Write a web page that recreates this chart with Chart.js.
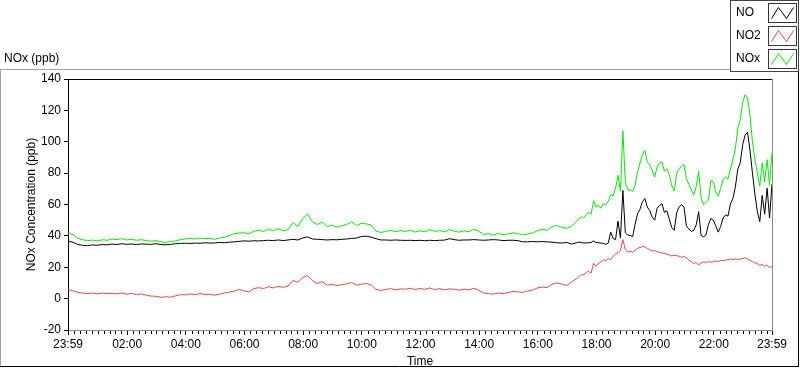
<!DOCTYPE html>
<html>
<head>
<meta charset="utf-8">
<script src="https://cdn.jsdelivr.net/npm/chart.js@4.4.0/dist/chart.umd.min.js"></script>
<style>
html,body{margin:0;padding:0;background:#fff;overflow:hidden}
canvas{display:block}
</style>
</head>
<body>
<canvas id="c" width="800" height="369"></canvas>
<script>
// minutes after 23:59 of the previous day
const minutes = [0,10,20,30,40,50,60,70,80,90,100,110,120,130,140,150,160,170,180,190,200,210,220,230,240,250,260,270,280,290,300,310,320,330,340,350,
  360,370,380,390,400,410,420,430,440,450,460,470,480,490,500,510,520,530,540,550,560,570,580,590,600,610,620,630,640,650,660,670,680,690,700,
  710,720,730,740,750,760,770,780,790,800,810,820,830,840,850,860,870,880,890,900,910,920,930,940,950,960,970,980,990,1000,1010,1020,1030,1040,
  1045,1050,1055,1060,1065,1070,1075,1080,1085,1090,1095,1100,1105,1110,1115,1120,1125,1130,1135,1140,1145,1150,1155,1160,1165,1170,1175,1180,1185,1190,1195,1200,
  1205,1210,1215,1220,1225,1230,1235,1240,1245,1250,1255,1260,1265,1270,1275,1280,1285,1290,1295,1300,1305,1310,1315,1320,1325,1330,1335,1340,1345,1350,1355,1360,
  1365,1370,1375,1380,1385,1390,1395,1400,1405,1410,1415,1420,1425,1430,1435,1440];

const no = [36.6,36,34.5,34,33.8,34.2,34,34.5,34.3,34.8,34.5,35,34.6,34.8,34.4,34.9,34.7,34.6,35,34.5,34.3,34.6,35,35.2,35.3,35.2,35.4,35.3,35.6,35.4,35.5,35.8,35.6,36,36.2,36.5,
  36.8,36.6,36.9,36.8,37,37.2,37,37.4,37,37.4,37.8,37.4,38.6,39.4,38,37.8,37.6,37.4,37.6,37.5,37.8,38,38.4,38.6,39.6,39.8,39.2,38.2,37.4,37.4,37.2,37.4,37.2,37.1,37.2,
  37,37.2,36.9,37.2,37,37.2,37.3,38.2,37.6,37.2,37.4,37.4,37.6,37.4,37.2,37.4,37.6,37.4,37,37.2,37.2,37,36.2,36.2,36.4,36.2,36.4,36.2,36,35.6,35.4,35.8,34.8,35.6,
  36,35.8,35.4,35.6,35.6,35.8,36.8,35.8,35.6,35.4,35.2,34.6,35.4,42.4,38.4,37.6,49.4,38.6,69,42,40.6,40.2,39.6,47.4,54.2,57,61.8,63.8,58.4,56,52,50,
  57.6,59.4,60.4,55,56,50.6,45.2,43.6,54.6,58.6,59.8,58.4,46.2,44.4,42.8,43.6,47,55.4,40.2,39.4,40.6,47.2,51.2,50,46.4,42.4,46,51.4,53.4,52.6,60.4,63.8,
  71,82.4,86.6,98,104.4,106,94.6,80,66.8,55.4,49,65.8,53.8,70.4,51.4,73];

const no2 = [5.8,5,4,3.5,3.2,3.6,3,3.5,3.2,3.4,3,3.6,2.8,3.3,2.6,3,2.2,1.6,1.5,0.8,1.2,0.9,1.8,2.5,2.4,3,2.6,3.2,2.6,2.8,2.2,2.8,3.6,4.2,4.8,5.8,
  5,4.2,6.4,7,6.4,7.6,6.8,7.8,7.2,8,11.6,10.4,13.4,14.8,11.4,9.6,10.8,8.6,9,8.4,8.8,9.4,10.2,8.6,9.2,9.6,8.8,5.8,5.2,5.8,6.4,5.6,6.2,6,6.6,
  5.8,6.4,6,6.8,5.8,6.4,5.6,6.2,6,5.4,6,5.6,6.6,5.4,3.6,3.2,2.8,3.6,3.2,3.8,4.6,4.4,4,4.8,5.4,6.8,7.4,7,9.2,10,9.2,8.4,10.6,12.6,
  14,15.4,15,16.8,17.4,16.2,22.4,20.8,22.4,23.4,24.8,24.2,25.6,24.8,27,28.6,29.2,30.8,37.6,31.4,29.8,30.2,29.6,30.8,32,32.6,33.2,33,32,31.2,30.4,30.6,
  29.8,29.6,29.2,28.8,28.4,27.8,27.2,27.6,27.4,27,26.4,26.8,26,24.6,23.6,22.4,23,21.4,22.8,23.4,23,23.6,23.2,23.6,24,23.6,24.4,24.2,24.6,24.8,25.2,24.8,
  25.4,25,25.2,25.6,26,25.2,24.4,23.6,22.8,22.4,21.2,21.8,20.6,21.4,19.8,20.4];

const nox = [41.6,41,38.5,37.5,37,37.3,36.8,37.5,37.2,38,37.6,38.2,37.4,37.8,37.2,37.6,37,36.6,37,36.2,35.8,36.4,36.8,37.6,38,38.4,38,38.6,38.2,38.4,37.8,38.6,39.2,40.2,41.4,41.8,
  42,41.4,43,43.6,42.8,44.2,43.4,44.6,43.2,44,48.5,46,51,54,49,47.2,48.8,46,46.8,45.6,46.4,47.2,49,46.6,48,47.6,47,43,42.2,42.8,43.6,42.6,43.4,42.8,43.6,
  42.4,43.2,42.6,44,42.8,43.4,42.6,44,43,42.4,43.2,42.6,44.2,43,40.8,41.4,40.6,41.6,40.8,41.2,42,41.4,40.6,41.2,41.8,43.2,44.2,43.6,45.8,46.6,45.4,44.8,46.2,49.2,
  51,52.2,51.4,53.4,55,54,62.4,58.4,59.4,57.6,60.6,59.6,62,66.2,65.6,70.4,78.6,68.6,107,74,69.6,69,68.4,72.4,80.6,86.4,92,94.6,86.8,85.4,81.6,77.6,
  84,86.4,87.2,81.2,82.8,79,72,68.6,79.6,82.8,84.6,85.4,76.4,72.8,69.4,66,71.4,81.2,64,59.8,61.4,62.8,75.2,74.4,68.2,65.2,70.4,76,77.6,76.2,82.6,88.4,
  95.4,108.6,114,125,130,127.8,117,100,89,80,72,86.4,74.4,88.6,72.2,93];

const tickMinutes = [0,121,241,361,481,601,721,841,961,1081,1201,1321,1440];
const tickLabels = ['23:59','02:00','04:00','06:00','08:00','10:00','12:00','14:00','16:00','18:00','20:00','22:00','23:59'];

const seriesNames = ['NO','NO2','NOx'];
const seriesColors = ['#000000','#ff4040','#00ee00'];
const seriesValues = [no, no2, nox];

Chart.defaults.font.family = '"Liberation Sans", Arial, sans-serif';
Chart.defaults.font.size = 12;
Chart.defaults.color = '#000';

function seg(ctx, x1, y1, x2, y2){
    ctx.beginPath();
    ctx.moveTo(x1, y1);
    ctx.lineTo(x2, y2);
    ctx.stroke();
}

const panel = {
    id: 'panel',
    beforeDraw(chart){
        const ctx = chart.ctx;
        ctx.save();
        ctx.fillStyle = '#fff';
        ctx.fillRect(0, 0, chart.width, chart.height);
        ctx.restore();
    },
    afterDraw(chart){
        const {ctx, chartArea: a} = chart;
        ctx.save();
        ctx.lineWidth = 1;

        // outer frame
        ctx.strokeStyle = '#a0a0a0';
        seg(ctx, 0, 69.5, 730, 69.5);
        seg(ctx, 0.5, 69.5, 0.5, 367);
        ctx.strokeStyle = '#000';
        seg(ctx, 0, 366.5, 799, 366.5);
        seg(ctx, 798.5, 72, 798.5, 367);

        // plot frame top / right
        seg(ctx, a.left, a.top + 0.5, a.right, a.top + 0.5);
        ctx.strokeStyle = '#8c8c8c';
        seg(ctx, a.right + 0.5, a.top, a.right + 0.5, a.bottom);

        // minor ticks on time axis, every 12 min
        const xs = chart.scales.x;
        ctx.strokeStyle = '#000';
        for (let m = 1; m < 1440; m += 12) {
            if (tickMinutes.includes(m)) continue;
            const px = Math.round(xs.getPixelForValue(m)) + 0.5;
            seg(ctx, px, a.bottom + 1, px, a.bottom + 4);
        }

        // chart name
        ctx.fillStyle = '#000';
        ctx.font = '12px "Liberation Sans", Arial, sans-serif';
        ctx.textBaseline = 'middle';
        ctx.textAlign = 'left';
        ctx.fillText('NOx (ppb)', 4, 59);

        // legend box
        ctx.fillStyle = '#fff';
        ctx.fillRect(730.5, 0.5, 68, 71);
        ctx.strokeStyle = '#444';
        ctx.strokeRect(730.5, 0.5, 68, 71);
        chart.data.datasets.forEach((ds, i) => {
            const cy = 13 + i * 23;
            ctx.fillStyle = '#000';
            ctx.fillText(ds.label, 736, cy);
            const bx = 768.5, by = cy - 9.5, bw = 28, bh = 19;
            ctx.fillStyle = '#fff';
            ctx.fillRect(bx, by, bw, bh);
            ctx.strokeStyle = '#333';
            ctx.strokeRect(bx, by, bw, bh);
            ctx.strokeStyle = ds.borderColor;
            ctx.beginPath();
            ctx.moveTo(bx + 3, by + bh - 4);
            ctx.lineTo(bx + 10, by + 4);
            ctx.lineTo(bx + 18, by + bh - 4);
            ctx.lineTo(bx + 25, by + 4);
            ctx.stroke();
        });
        ctx.restore();
    }
};

new Chart(document.getElementById('c'), {
    type: 'line',
    data: {
        datasets: seriesNames.map((name, k) => ({
            label: name,
            data: minutes.map((m, i) => ({x: m, y: seriesValues[k][i]})),
            borderColor: seriesColors[k],
            backgroundColor: seriesColors[k],
            borderWidth: 1,
            pointRadius: 0,
            tension: 0,
            fill: false
        }))
    },
    options: {
        responsive: false,
        animation: false,
        events: [],
        layout: {padding: {top: 79, right: 28, left: 0, bottom: 0}},
        plugins: {legend: {display: false}, tooltip: {enabled: false}},
        scales: {
            x: {
                type: 'linear',
                min: 0,
                max: 1440,
                afterFit: s => { s.height = 39; },
                afterBuildTicks: s => { s.ticks = tickMinutes.map(v => ({value: v})); },
                ticks: {
                    autoSkip: false,
                    maxRotation: 0,
                    padding: 2,
                    color: '#000',
                    callback: v => tickLabels[tickMinutes.indexOf(v)]
                },
                grid: {drawOnChartArea: false, tickLength: 5, tickColor: '#000'},
                border: {color: '#8c8c8c'},
                title: {display: true, text: 'Time', color: '#000', padding: {top: 0, bottom: 0}}
            },
            y: {
                min: -20,
                max: 140,
                afterFit: s => { s.width = 68; },
                ticks: {stepSize: 20, padding: 3, color: '#000'},
                grid: {drawOnChartArea: false, tickLength: 4, tickColor: '#000'},
                border: {color: '#000'},
                title: {display: true, text: 'NOx Concentration (ppb)', color: '#000', padding: {top: 24, bottom: 0}}
            }
        }
    },
    plugins: [panel]
});
</script>
</body>
</html>
